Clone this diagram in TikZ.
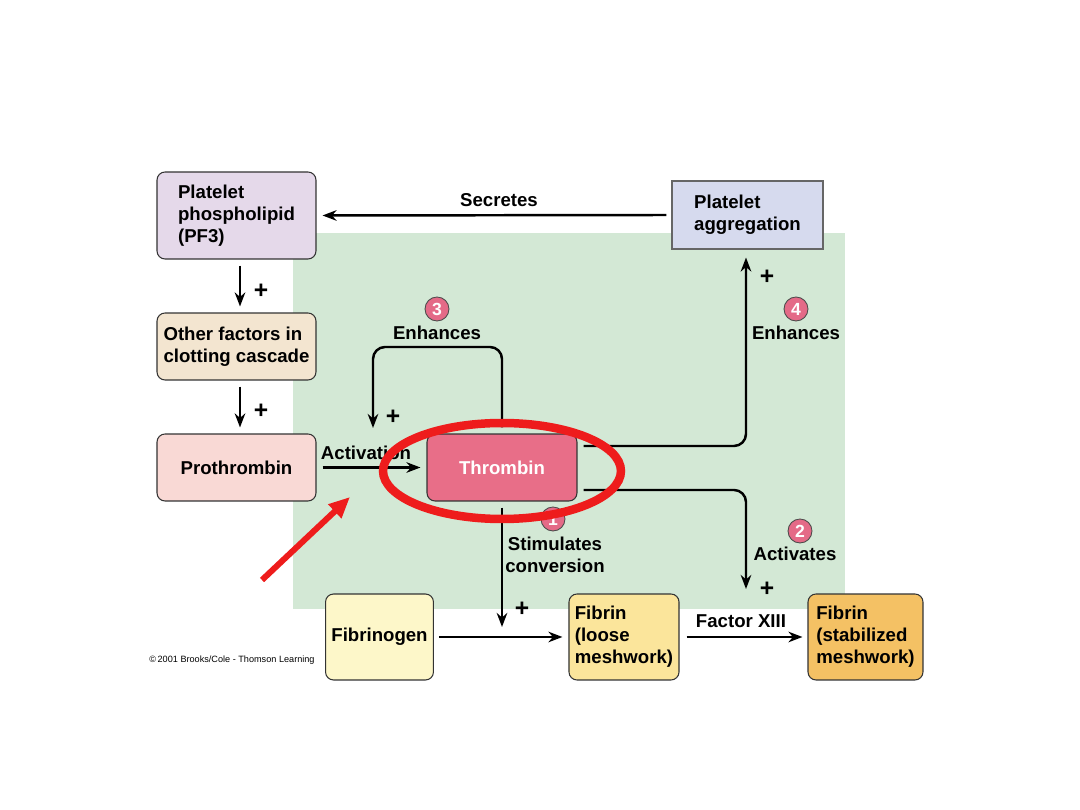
\documentclass[tikz,border=0pt]{standalone}
\usepackage{fontspec}
\setmainfont{Liberation Sans}
\usetikzlibrary{arrows.meta}

\definecolor{pfcol}{HTML}{E5D9EA}
\definecolor{aggcol}{HTML}{D6DAEE}
\definecolor{othcol}{HTML}{F3E5D0}
\definecolor{procol}{HTML}{F9D9D5}
\definecolor{thrcol}{HTML}{E86E88}
\definecolor{fgcol}{HTML}{FDF7C9}
\definecolor{flcol}{HTML}{FBE59B}
\definecolor{fscol}{HTML}{F4C164}
\definecolor{bgcol}{HTML}{D3E8D5}
\definecolor{numcol}{HTML}{E46A87}
\definecolor{markred}{HTML}{EE1C1C}

\tikzset{
  box/.style={draw=black!80, line width=0.6pt, rounded corners=0.16cm, align=left,
    font=\fontsize{10.6}{12.5}\selectfont\bfseries},
  lbl/.style={font=\fontsize{10.6}{12.5}\selectfont\bfseries, align=left},
  plus/.style={font=\fontsize{14}{14}\selectfont\bfseries},
  num/.style={circle, draw=black!70, line width=0.5pt, fill=numcol, text=white,
    inner sep=0pt, minimum size=0.48cm, font=\fontsize{10}{10}\selectfont\bfseries},
  flow/.style={line width=1.4pt, -{Stealth[length=8pt,width=6pt]}},
}

\begin{document}
\begin{tikzpicture}[x=0.02cm, y=-0.02cm]
    \useasboundingbox (0,0) rectangle (1080,810);
    \fill [bgcol] (293,233) rectangle (845,609);
    % boxes
    \node (pf3) [box, fill=pfcol, minimum width=3.18cm, minimum height=1.74cm] at (236.5,215.5) {Platelet\\phospholipid\\(PF3)};
    \node (agg) [box, fill=aggcol, draw=black!60, rounded corners=0pt, minimum width=3.02cm, minimum height=1.36cm] at (747.5,215) {Platelet\\aggregation};
    \node (oth) [box, fill=othcol, minimum width=3.18cm, minimum height=1.34cm] at (236.5,346.5) {Other factors in\\clotting cascade};
    \node (proth) [box, fill=procol, minimum width=3.18cm, minimum height=1.34cm] at (236.5,467.5) {Prothrombin};
    \node (thr) [box, fill=thrcol, text=white, minimum width=3.0cm, minimum height=1.34cm] at (502,467.5) {Thrombin};
    \node (fgen) [box, fill=fgcol, minimum width=2.14cm, minimum height=1.72cm] at (379.5,637) {Fibrinogen};
    \node (floose) [box, fill=flcol, minimum width=2.12cm, minimum height=1.72cm] at (624,637) {Fibrin\\(loose\\meshwork)};
    \node (fstab) [box, fill=fscol, minimum width=2.3cm, minimum height=1.72cm] at (865.5,637) {Fibrin\\(stabilized\\meshwork)};
    % free ends
    \coordinate (actin) at (373,428);
    \coordinate (convin) at (502,627);
    \coordinate (f13in) at (746,589);
    % connectors
    \draw [flow, shorten <=0.1cm, shorten >=0.12cm] (agg.west) -- (pf3.east);
    \draw [flow, shorten <=0.12cm, shorten >=0.12cm] ([xshift=0.07cm]pf3.south) -- ([xshift=0.07cm]oth.north);
    \draw [flow, shorten <=0.12cm, shorten >=0.12cm] ([xshift=0.07cm]oth.south) -- ([xshift=0.07cm]proth.north);
    \draw [flow, shorten <=0.12cm, shorten >=0.12cm] (proth.east) -- (thr.west);
    \draw [flow, rounded corners=0.24cm, shorten <=0.12cm] (thr.north) -- (502,347) -| (actin);
    \draw [flow, rounded corners=0.24cm, shorten >=0.16cm] ([xshift=0.12cm,yshift=0.43cm]thr.east) -| ([xshift=-0.03cm]agg.south);
    \draw [flow, rounded corners=0.24cm] ([xshift=0.12cm,yshift=-0.45cm]thr.east) -| (f13in);
    \draw [flow, shorten <=0.12cm] (thr.south) -- (convin);
    \draw [flow, shorten <=0.1cm, shorten >=0.12cm] (fgen.east) -- (floose.west);
    \draw [flow, shorten <=0.14cm, shorten >=0.1cm] (floose.east) -- (fstab.west);
    % labels
    \node (secr) [lbl] at (499,200) {Secretes};
    \node (activ) [lbl] at (366,453) {Activation};
    \node (enh3) [lbl] at (437,333) {Enhances};
    \node (enh4) [lbl] at (796,333) {Enhances};
    \node (stim) [lbl, align=center] at (555,555) {Stimulates\\conversion};
    \node (activs) [lbl] at (795,554) {Activates};
    \node (f13) [lbl] at (741,621) {Factor XIII};
    \node (num3) [num] at (437,309) {3};
    \node (num4) [num] at (796,309) {4};
    \node (num1) [num] at (553,519) {1};
    \node (num2) [num] at (800,531) {2};
    \node [plus] at (261,291) {+};
    \node [plus] at (261,411) {+};
    \node [plus] at (393,417) {+};
    \node [plus] at (767,277) {+};
    \node [plus] at (767,589) {+};
    \node [plus] at (522,609) {+};
    \node (copy) [font=\fontsize{5.2}{6}\selectfont] at (232,660) {\textcopyright\,2001 Brooks/Cole - Thomson Learning};
    % red marks
    \draw [markred, line width=0.17cm] (502,471) ellipse [x radius=2.38cm, y radius=0.96cm];
    \coordinate (redtail) at (262,580);
    \coordinate (redtip) at (350,497);
    \draw [markred, line width=0.12cm, -{Triangle[length=0.42cm,width=0.36cm]}] (redtail) -- (redtip);
\end{tikzpicture}
\end{document}
